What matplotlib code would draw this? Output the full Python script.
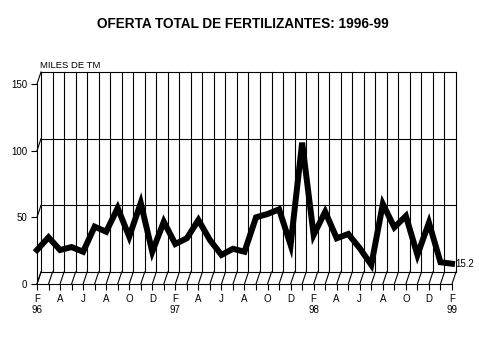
import numpy as np
import matplotlib
matplotlib.use("Agg")
import matplotlib.pyplot as plt

plt.rcParams['font.family'] = ['Liberation Sans', 'DejaVu Sans']

# monthly supply, Feb 1996 - Feb 1999 (thousand t)
months = ["F", "M", "A", "M", "J", "J", "A", "S", "O", "N", "D", "J"] * 3 + ["F"]
years = {0: "96", 12: "97", 24: "98", 36: "99"}
oferta = [25.5, 35, 25.5, 27.7, 24.2, 43, 39.2, 57, 35.5, 60.8, 24.2, 46.7,
          30, 34.3, 48, 33, 21.8, 26.4, 24.2, 50, 52.5, 56, 29.3, 106,
          36.8, 54.2, 34.3, 37.5, 26.8, 14.3, 60, 42.5, 51, 21.8, 46, 16.3,
          15.2]
yticks = [0, 50, 100, 150]

n = len(oferta)
x = np.arange(n)

fig = plt.figure(figsize=(4.79, 3.59), dpi=100)
ax = fig.add_axes([37/479, 75/359, 415/479, 200/359])
ax.set_xlim(0, n - 1)
ax.set_ylim(0, 150)

# depth offset of the back wall (4 px right, 12 px up) in data units
dx = 4 * (n - 1) / 415
dy = 12 * 150 / 200
kw = dict(color="black", lw=0.8, clip_on=False, zorder=1)

# back wall
for yv in yticks:
    ax.plot([dx, n - 1 + dx], [yv + dy, yv + dy], **kw)
    ax.plot([0, dx], [yv, yv + dy], **kw)
for i in x:
    ax.plot([i + dx, i + dx], [dy, 150 + dy], **kw)
    ax.plot([i, i + dx], [0, dy], **kw)

ax.plot(x, oferta, color="black", lw=4.3, solid_joinstyle="miter",
        clip_on=False, zorder=3)
ax.text(n - 1 + 0.25, oferta[-1], "15.2", fontsize=7, va="center", ha="left")

for s in ["top", "right"]:
    ax.spines[s].set_visible(False)
ax.spines["left"].set_linewidth(0.8)
ax.spines["bottom"].set_linewidth(0.8)

labels = []
for i in x:
    if i % 2 == 0:
        lab = months[i]
        if i in years:
            lab += "\n" + years[i]
        labels.append(lab)
    else:
        labels.append("")
ax.set_xticks(x)
ax.set_xticklabels(labels, fontsize=7, linespacing=1.2, va="top")
ax.set_yticks(yticks)
ax.set_yticklabels([str(v) for v in yticks], fontsize=7)
ax.tick_params(direction="out", length=4, width=0.8, pad=3, colors="black")

fig.text(243/479, 1 - 24/359, "OFERTA TOTAL DE FERTILIZANTES: 1996-99",
         ha="center", va="center", fontsize=9.8, fontweight="bold")
fig.text(40/479, 1 - 66/359, "MILES DE TM", ha="left", va="center", fontsize=6.8)

fig.savefig("out.png", dpi=100)
